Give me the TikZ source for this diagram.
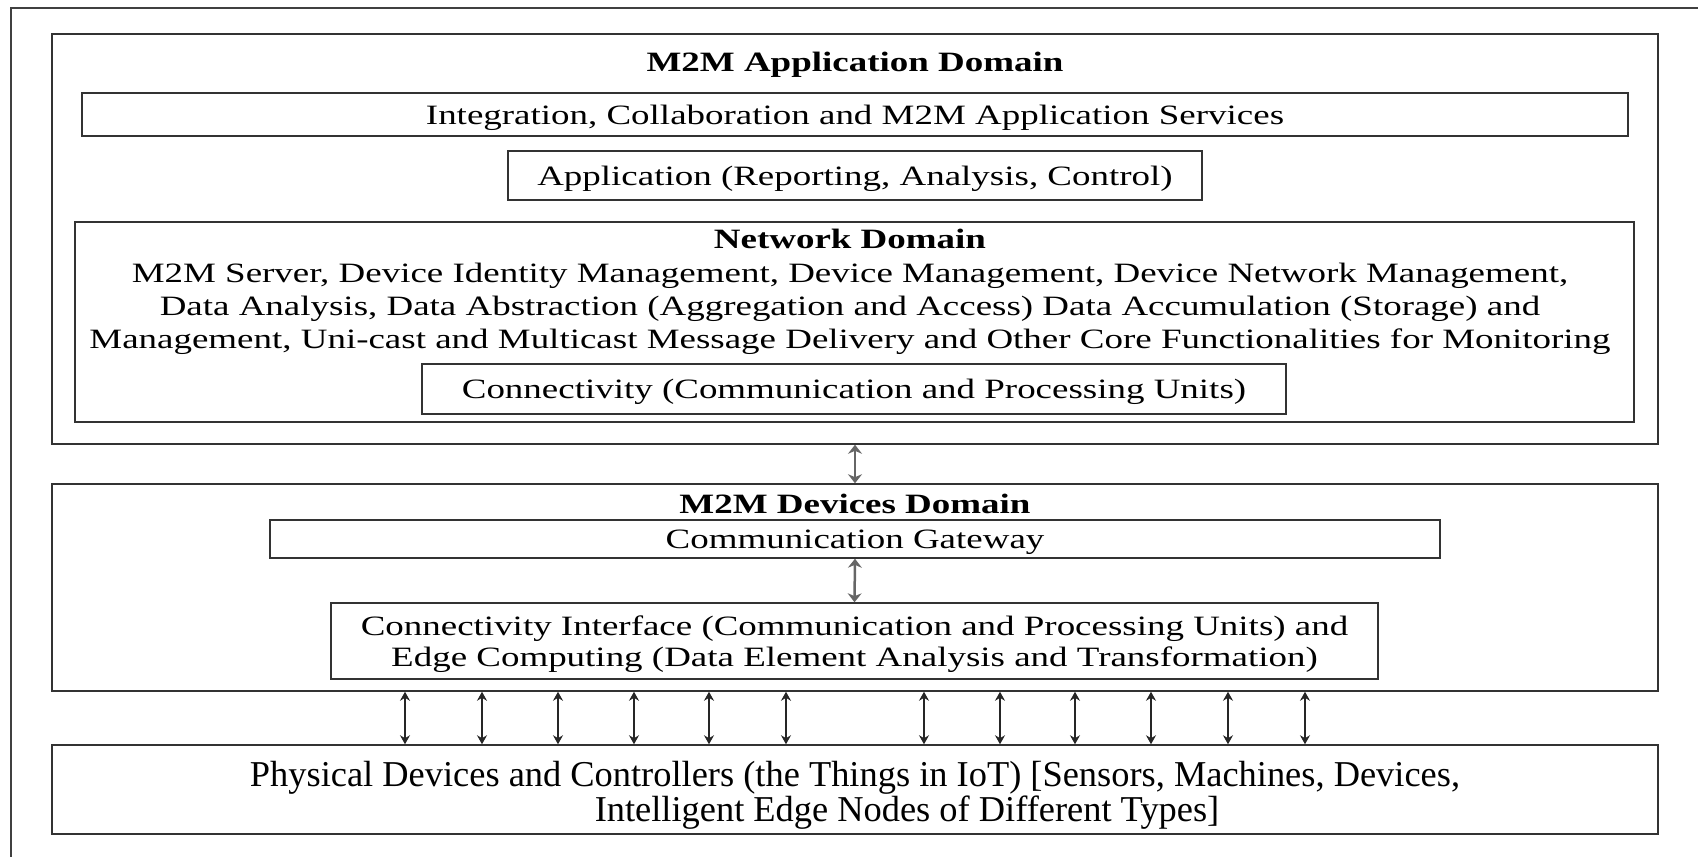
\documentclass[tikz,border=0pt]{standalone}
\usepackage{fontspec}
\setmainfont[FakeStretch=1.32]{Liberation Serif}
\newfontfamily\plainserif{Liberation Serif}
\usetikzlibrary{arrows.meta}

\begin{document}
\begin{tikzpicture}[x=1pt, y=-1pt,
	box/.style={draw=black!80, line width=1.5pt, inner sep=0pt},
	lbl/.style={font=\fontsize{28}{33.3}\selectfont, align=center, inner sep=0pt, yshift=-3pt},
	link/.style={{Stealth[length=9pt,width=10pt]}-{Stealth[length=9pt,width=10pt]}, line width=1.3pt, draw=black!85},
	mainlink/.style={{Stealth[length=9pt,width=14pt]}-{Stealth[length=9pt,width=14pt]}, line width=2.5pt, draw=black!60}]
	\useasboundingbox (0,0) rectangle (1698,857);
	\draw[line width=1.5pt, black!75] (11,8) rectangle (1720,880);

	% application domain
	\node[box, minimum width=1606pt, minimum height=410pt] (appdom) at (855,239) {};
	\node[lbl, font=\fontsize{28}{33.3}\selectfont\bfseries] (apptitle) at (855,62) {M2M Application Domain};
	\node[box, minimum width=1546pt, minimum height=43pt, label={[lbl]center:Integration, Collaboration and M2M Application Services}] (integ) at (855,114.5) {};
	\node[box, minimum width=694pt, minimum height=49pt, label={[lbl]center:Application (Reporting, Analysis, Control)}] (appl) at (855,175.5) {};
	\node[box, minimum width=1559pt, minimum height=200pt] (netdom) at (854.5,322) {};
	\node[lbl] (nettext) at (850,289) {\textbf{Network Domain}\\
		M2M Server, Device Identity Management, Device Management, Device Network Management,\\
		Data Analysis, Data Abstraction (Aggregation and Access) Data Accumulation (Storage) and\\
		Management, Uni-cast and Multicast Message Delivery and Other Core Functionalities for Monitoring};
	\node[box, minimum width=864pt, minimum height=50pt, label={[lbl]center:Connectivity (Communication and Processing Units)}] (conn) at (854,389) {};

	% devices domain
	\node[box, minimum width=1606pt, minimum height=207pt] (devdom) at (855,587.5) {};
	\node[lbl, font=\fontsize{28}{33.3}\selectfont\bfseries] (devtitle) at (855,501) {M2M Devices Domain};
	\node[box, minimum width=1170pt, minimum height=38pt, label={[lbl]center:Communication Gateway}] (gate) at (855,539) {};
	\node[box, minimum width=1047pt, minimum height=76pt, label={[lbl, font=\fontsize{28}{31.5}\selectfont]center:Connectivity Interface (Communication and Processing Units) and\\
		Edge Computing (Data Element Analysis and Transformation)}] (iface) at (854.5,641) {};

	% things
	\node[box, minimum width=1606pt, minimum height=89pt, label={[lbl, font=\plainserif\fontsize{36.4}{34.7}\selectfont, yshift=-3pt]center:Physical Devices and Controllers (the Things in IoT) [Sensors, Machines, Devices,\\
		\hspace*{104pt}Intelligent Edge Nodes of Different Types]}] (phys) at (855,789.5) {};

	\draw[mainlink] (appdom.south) -- (devdom.north);
	\draw[mainlink] (gate.south) -- (iface.north);
	\foreach \x in {405,482,558,634,709,786,924,1000,1075,1151,1228,1305}
		\draw[link] (\x,0 |- devdom.south) -- (\x,0 |- phys.north);
\end{tikzpicture}
\end{document}
